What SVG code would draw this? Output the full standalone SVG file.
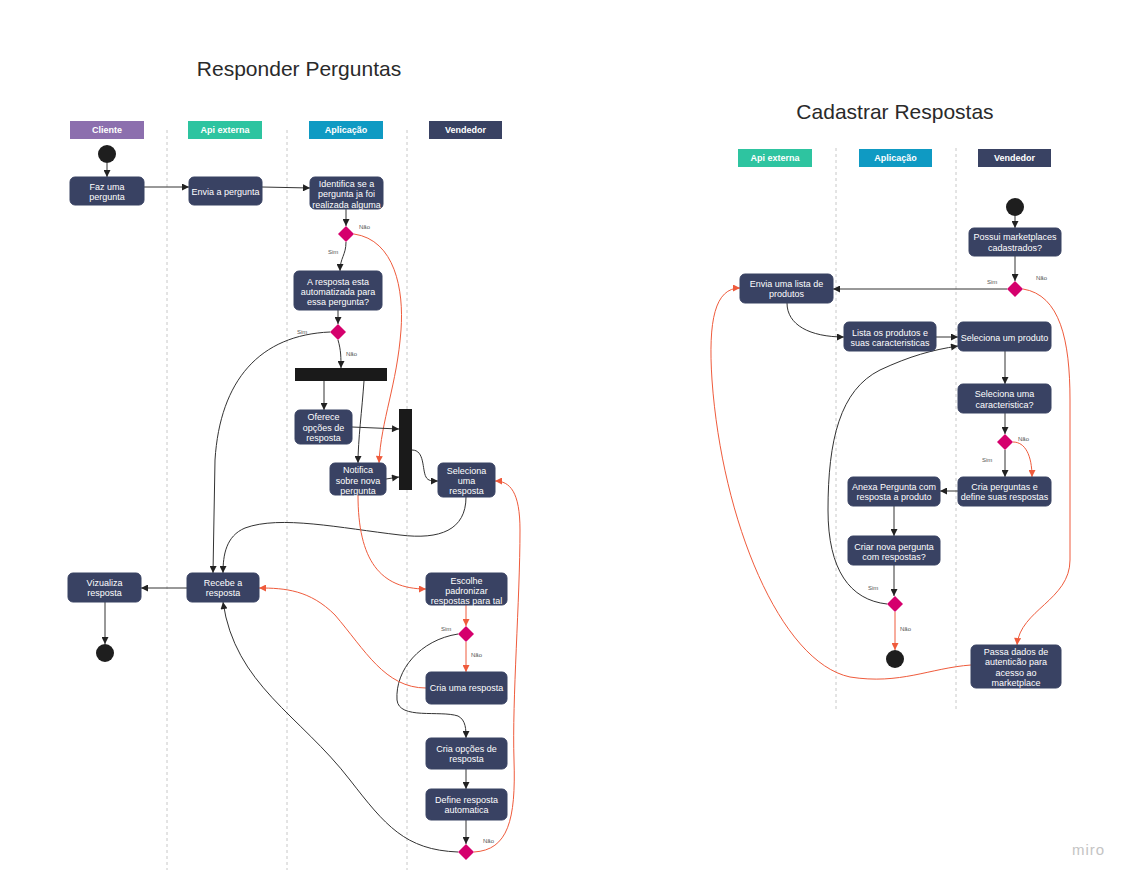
<svg xmlns="http://www.w3.org/2000/svg" width="1134" height="881" viewBox="0 0 1134 881">
<defs>
<marker id="ab" viewBox="0 0 10 10" refX="10" refY="5" markerWidth="8" markerHeight="7" markerUnits="userSpaceOnUse" orient="auto"><path d="M0,0 L10,5 L0,10 z" fill="#222"/></marker>
<marker id="ar" viewBox="0 0 10 10" refX="10" refY="5" markerWidth="8" markerHeight="7" markerUnits="userSpaceOnUse" orient="auto"><path d="M0,0 L10,5 L0,10 z" fill="#ef5b3c"/></marker>
</defs>
<style>
.title{font-family:"Liberation Sans",Arial,sans-serif;font-size:21px;fill:#2a2a2a;text-anchor:middle}
.hd{font-family:"Liberation Sans",Arial,sans-serif;font-size:9px;font-weight:bold;fill:#fff;text-anchor:middle}
.nd rect{fill:#394263;stroke:#394263}
.nd text{font-family:"Liberation Sans",Arial,sans-serif;font-size:9px;fill:#fff;text-anchor:middle}
.dv{stroke:#c8c8c8;stroke-width:1;stroke-dasharray:3,3}
.dm{fill:#d5006d}
.ci{fill:#1e1e1e}
.bar{fill:#1a1a1a}
.lb{font-family:"Liberation Sans",Arial,sans-serif;font-size:6px;fill:#555}
.cb{fill:none;stroke:#333;stroke-width:1;marker-end:url(#ab)}
.cr{fill:none;stroke:#ef5b3c;stroke-width:1;marker-end:url(#ar)}
.miro{font-family:"Liberation Sans",Arial,sans-serif;font-size:15px;fill:#c4c4c4;letter-spacing:1px}
</style>
<rect width="1134" height="881" fill="#fff"/>

<!-- titles -->
<text class="title" x="299" y="76">Responder Perguntas</text>
<text class="title" x="895" y="119">Cadastrar Respostas</text>

<!-- lane dividers -->
<g id="dividers">
<line class="dv" x1="167" y1="130" x2="167" y2="870"/>
<line class="dv" x1="287" y1="130" x2="287" y2="870"/>
<line class="dv" x1="407" y1="130" x2="407" y2="870"/>
<line class="dv" x1="836" y1="148" x2="836" y2="712"/>
<line class="dv" x1="956" y1="148" x2="956" y2="712"/>
</g>

<!-- headers -->
<g id="lane-cliente"><rect x="70" y="121" width="74" height="18" fill="#8c6fae"/><text class="hd" x="107" y="133">Cliente</text></g>
<g id="lane-api1"><rect x="188" y="121" width="74" height="18" fill="#2ec4a0"/><text class="hd" x="225" y="133">Api externa</text></g>
<g id="lane-app1"><rect x="309" y="121" width="74" height="18" fill="#0f9ac3"/><text class="hd" x="346" y="133">Aplicação</text></g>
<g id="lane-vend1"><rect x="429" y="121" width="73" height="18" fill="#394263"/><text class="hd" x="465.5" y="133">Vendedor</text></g>
<g id="lane-api2"><rect x="738" y="149" width="74" height="18" fill="#2ec4a0"/><text class="hd" x="775" y="161">Api externa</text></g>
<g id="lane-app2"><rect x="859" y="149" width="73" height="18" fill="#0f9ac3"/><text class="hd" x="895.5" y="161">Aplicação</text></g>
<g id="lane-vend2"><rect x="978" y="149" width="73" height="18" fill="#394263"/><text class="hd" x="1014.5" y="161">Vendedor</text></g>

<!-- connectors -->
<g id="connectors">
<path class="cb" d="M107,163 L107,177"/>
<path class="cb" d="M144,187 L189,187"/>
<path class="cb" d="M262,187 L310,188"/>
<path class="cb" d="M346,209 L346,226"/>
<path class="cb" d="M346,242 C346,255 340,258 340,271"/>
<path class="cr" d="M354,234 C395,240 404,290 401,330 C397,385 381,420 379,463"/>
<path class="cb" d="M338,310 L338,324"/>
<path class="cb" d="M330,332 C260,335 220,380 215,460 L213,573"/>
<path class="cb" d="M338,340 C341,350 341,358 341,368"/>
<path class="cb" d="M324,381 L324,410"/>
<path class="cb" d="M364,381 C362,410 358,440 358,463"/>
<path class="cb" d="M352,427 L399,429"/>
<path class="cb" d="M386,479 L399,477"/>
<path class="cb" d="M412,450 C425,450 422,470 426,477 C428,481 432,481 438,481"/>
<path class="cb" d="M466,497 C466,530 440,540 400,535 C340,528 280,515 245,528 C226,536 223,555 223,573"/>
<path class="cr" d="M358,495 C358,560 380,589 426,589"/>
<path class="cr" d="M466,605 L466,626"/>
<path class="cr" d="M466,642 L466,672"/>
<path class="cb" d="M458,634 C420,640 395,670 397,700 C399,720 440,710 458,716 C466,720 466,730 466,738"/>
<path class="cr" d="M426,688 C385,688 365,650 335,615 C310,590 285,588 259,588"/>
<path class="cb" d="M466,769 L466,789"/>
<path class="cb" d="M466,820 L466,844"/>
<path class="cb" d="M458,852 C405,850 385,825 350,780 C300,715 235,685 223,602"/>
<path class="cr" d="M474,852 C508,850 516,820 514,760 C512,700 520,600 520,530 C520,492 510,481 495,481"/>
<path class="cb" d="M187,588 L141,588"/>
<path class="cb" d="M105,602 L105,644"/>

<path class="cb" d="M1015,216 L1015,228"/>
<path class="cb" d="M1015,256 L1015,281"/>
<path class="cb" d="M1007,289 L833,289"/>
<path class="cr" d="M1023,289 C1060,295 1070,340 1070,400 L1070,560 C1070,600 1020,610 1017,645"/>
<path class="cb" d="M787,303 C787,325 810,337 844,337"/>
<path class="cb" d="M936,337 L958,337"/>
<path class="cb" d="M887,604 C850,600 828,570 828,510 C828,440 840,390 880,370 C910,356 932,350 958,346"/>
<path class="cb" d="M1005,351 L1005,384"/>
<path class="cb" d="M1005,413 L1005,434"/>
<path class="cb" d="M1005,450 L1005,477"/>
<path class="cr" d="M1013,442 C1025,442 1032,455 1032,477"/>
<path class="cb" d="M958,491 L940,491"/>
<path class="cb" d="M894,506 L894,536"/>
<path class="cb" d="M894,565 L894,596"/>
<path class="cr" d="M895,612 L895,650"/>
<path class="cr" d="M971,665 C930,668 900,685 850,677 C780,662 722,520 712,380 C708,320 715,288 740,288"/>
</g>

<!-- labels -->
<g id="labels">
<text class="lb" x="359" y="229">Não</text>
<text class="lb" x="328" y="254">Sim</text>
<text class="lb" x="297" y="334">Sim</text>
<text class="lb" x="346" y="356">Não</text>
<text class="lb" x="441" y="631">Sim</text>
<text class="lb" x="471" y="657">Não</text>
<text class="lb" x="483" y="843">Não</text>
<text class="lb" x="987" y="284">Sim</text>
<text class="lb" x="1036" y="280">Não</text>
<text class="lb" x="1018" y="441">Não</text>
<text class="lb" x="982" y="462">Sim</text>
<text class="lb" x="868" y="590">Sim</text>
<text class="lb" x="900" y="631">Não</text>
</g>

<!-- left nodes -->
<g id="start1"><circle class="ci" cx="107" cy="154" r="9"/></g>
<g id="faz" class="nd"><rect x="70" y="177" width="74" height="28" rx="5"/><text x="107" y="189.5">Faz uma</text><text x="107" y="199.5">pergunta</text></g>
<g id="envia" class="nd"><rect x="189" y="177" width="73" height="28" rx="5"/><text x="225.5" y="194.5">Envia a pergunta</text></g>
<g id="identifica" class="nd"><rect x="310" y="177" width="73" height="32" rx="5"/><text x="346.5" y="186.5">Identifica se a</text><text x="346.5" y="197">pergunta ja foi</text><text x="346.5" y="207.5">realizada alguma</text></g>
<g id="d1"><polygon class="dm" points="346,226 354,234 346,242 338,234"/></g>
<g id="automatizada" class="nd"><rect x="294" y="271" width="88" height="39" rx="5"/><text x="338" y="284.5">A resposta esta</text><text x="338" y="295">automatizada para</text><text x="338" y="305">essa pergunta?</text></g>
<g id="d2"><polygon class="dm" points="338,324 346,332 338,340 330,332"/></g>
<g id="fork1"><rect class="bar" x="295" y="368" width="92" height="13"/></g>
<g id="oferece" class="nd"><rect x="295" y="410" width="57" height="34" rx="5"/><text x="323.5" y="419.5">Oferece</text><text x="323.5" y="430.5">opções de</text><text x="323.5" y="440.5">resposta</text></g>
<g id="notifica" class="nd"><rect x="330" y="463" width="56" height="32" rx="5"/><text x="358" y="472.5">Notifica</text><text x="358" y="483.5">sobre nova</text><text x="358" y="493.5">pergunta</text></g>
<g id="join1"><rect class="bar" x="399" y="409" width="13" height="81"/></g>
<g id="seleciona" class="nd"><rect x="438" y="463" width="57" height="34" rx="5"/><text x="466.5" y="473.5">Seleciona</text><text x="466.5" y="483.5">uma</text><text x="466.5" y="493.5">resposta</text></g>
<g id="recebe" class="nd"><rect x="187" y="573" width="72" height="29" rx="5"/><text x="223" y="585.5">Recebe a</text><text x="223" y="595.5">resposta</text></g>
<g id="vizualiza" class="nd"><rect x="68" y="573" width="73" height="29" rx="5"/><text x="104.5" y="585.5">Vizualiza</text><text x="104.5" y="595.5">resposta</text></g>
<g id="end1"><circle class="ci" cx="105" cy="653" r="9"/></g>
<g id="escolhe" class="nd"><rect x="426" y="573" width="81" height="32" rx="5"/><text x="466.5" y="583.5">Escolhe</text><text x="466.5" y="593.5">padronizar</text><text x="466.5" y="603.5">respostas para tal</text></g>
<g id="d3"><polygon class="dm" points="466,626 474,634 466,642 458,634"/></g>
<g id="criauma" class="nd"><rect x="426" y="672" width="81" height="32" rx="5"/><text x="466.5" y="690.5">Cria uma resposta</text></g>
<g id="criaopcoes" class="nd"><rect x="426" y="738" width="81" height="31" rx="5"/><text x="466.5" y="751.5">Cria opções de</text><text x="466.5" y="761.5">resposta</text></g>
<g id="define" class="nd"><rect x="426" y="789" width="81" height="31" rx="5"/><text x="466.5" y="802.5">Define resposta</text><text x="466.5" y="812.5">automatica</text></g>
<g id="d4"><polygon class="dm" points="466,844 474,852 466,860 458,852"/></g>

<!-- right nodes -->
<g id="start2"><circle class="ci" cx="1015" cy="207" r="9"/></g>
<g id="possui" class="nd"><rect x="969" y="228" width="92" height="28" rx="5"/><text x="1015" y="239.5">Possui marketplaces</text><text x="1015" y="250.5">cadastrados?</text></g>
<g id="d5"><polygon class="dm" points="1015,281 1023,289 1015,297 1007,289"/></g>
<g id="envialista" class="nd"><rect x="740" y="274" width="93" height="29" rx="5"/><text x="786.5" y="286.5">Envia uma lista de</text><text x="786.5" y="296.5">produtos</text></g>
<g id="lista" class="nd"><rect x="844" y="322" width="92" height="29" rx="5"/><text x="890" y="335.5">Lista os produtos e</text><text x="890" y="345.5">suas caracteristicas</text></g>
<g id="selprod" class="nd"><rect x="958" y="322" width="93" height="29" rx="5"/><text x="1004.5" y="340.5">Seleciona um produto</text></g>
<g id="selcar" class="nd"><rect x="958" y="384" width="93" height="29" rx="5"/><text x="1004.5" y="396.5">Seleciona uma</text><text x="1004.5" y="407.5">caracteristica?</text></g>
<g id="d6"><polygon class="dm" points="1005,434 1013,442 1005,450 997,442"/></g>
<g id="criaperg" class="nd"><rect x="958" y="477" width="93" height="29" rx="5"/><text x="1004.5" y="489.5">Cria perguntas e</text><text x="1004.5" y="499.5">define suas respostas</text></g>
<g id="anexa" class="nd"><rect x="848" y="477" width="92" height="29" rx="5"/><text x="894" y="489.5">Anexa Pergunta com</text><text x="894" y="499.5">resposta a produto</text></g>
<g id="criar" class="nd"><rect x="848" y="536" width="92" height="29" rx="5"/><text x="894" y="549.5">Criar nova pergunta</text><text x="894" y="559.5">com respostas?</text></g>
<g id="d7"><polygon class="dm" points="895,596 903,604 895,612 887,604"/></g>
<g id="end2"><circle class="ci" cx="895" cy="659" r="9"/></g>
<g id="passa" class="nd"><rect x="971" y="645" width="90" height="43" rx="5"/><text x="1016" y="654.5">Passa dados de</text><text x="1016" y="665">autenticão para</text><text x="1016" y="675.5">acesso ao</text><text x="1016" y="685.5">marketplace</text></g>

<text class="miro" x="1072" y="855">miro</text>
</svg>
